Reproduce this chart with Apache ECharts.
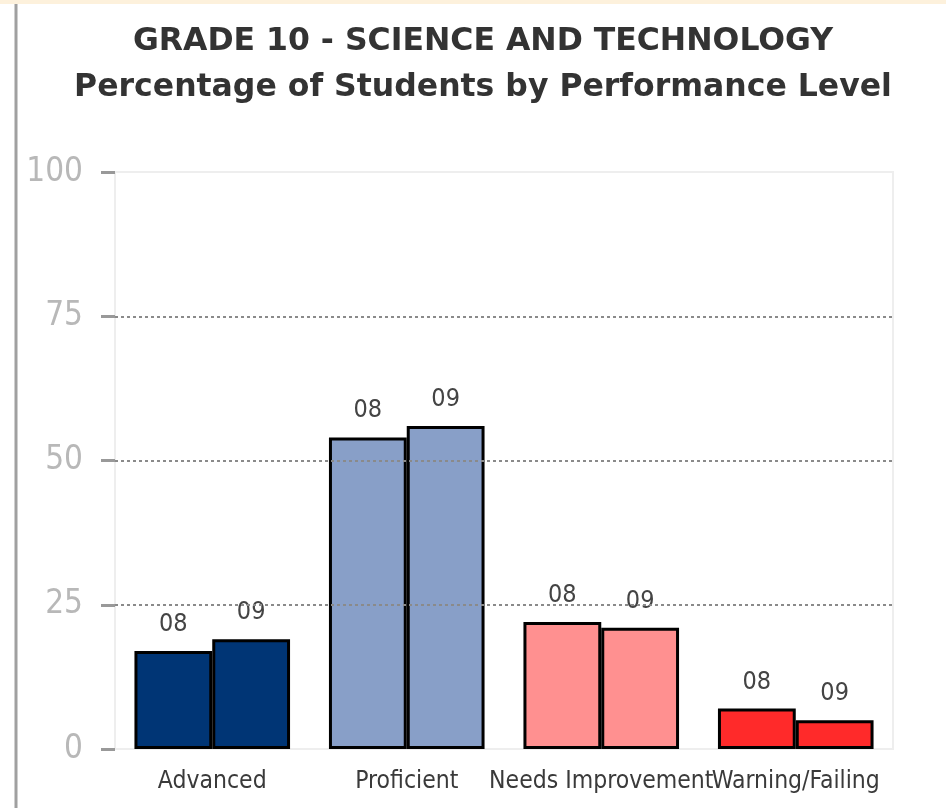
<!DOCTYPE html>
<html>
<head>
<meta charset="utf-8">
<script src="https://cdn.jsdelivr.net/npm/echarts@6/dist/echarts.min.js"></script>
<style>
  html, body { margin: 0; padding: 0; background: #ffffff; }
  #chart { width: 946px; height: 808px; }
</style>
</head>
<body>
<div id="chart"></div>
<script>
const chart = echarts.init(document.getElementById('chart'));

const categories = ['Advanced', 'Proficient', 'Needs Improvement', 'Warning/Failing'];

// percentage by year
const values08 = [17, 54, 22, 7];
const values09 = [19, 56, 21, 5];

const levelColors = ['#003575', '#889fc8', '#ff9090', '#ff2a2a'];

const gridValues = [25, 50, 75];

const narrow = "'DejaVu Sans Condensed', 'Liberation Sans Narrow', 'DejaVu Sans', sans-serif";

function barData(values) {
  return values.map(function (v, i) {
    return { value: v, itemStyle: { color: levelColors[i] } };
  });
}

const barLabel = {
  show: true,
  position: 'top',
  distance: 14,
  formatter: '{a}',
  color: '#444',
  fontFamily: narrow,
  fontSize: 25
};

const option = {
  animation: false,
  title: {
    text: 'GRADE 10 - SCIENCE AND TECHNOLOGY\nPercentage of Students by Performance Level',
    left: 483,
    textAlign: 'center',
    top: 19,
    padding: 0,
    textStyle: {
      fontFamily: 'DejaVu Sans',
      fontWeight: 'bold',
      fontSize: 31.5,
      lineHeight: 46,
      color: '#333'
    }
  },
  graphic: [
    {
      type: 'rect',
      shape: { x: 16, y: -20, width: 940, height: 840, r: 10 },
      style: { fill: 'none', stroke: '#a0a0a0', lineWidth: 3 },
      z: 1
    },
    {
      type: 'rect',
      shape: { x: 0, y: 0, width: 946, height: 4 },
      style: { fill: '#fdf1dc' },
      z: 2
    }
  ],
  grid: {
    left: 115,
    right: 53,
    top: 172,
    bottom: 59,
    show: true,
    borderColor: '#eeeeee',
    borderWidth: 2
  },
  xAxis: {
    type: 'category',
    data: categories,
    axisLine: { show: false },
    axisTick: { show: false },
    axisLabel: {
      interval: 0,
      margin: 20,
      color: '#3a3a3a',
      fontFamily: narrow,
      fontSize: 24.5
    }
  },
  yAxis: {
    type: 'value',
    min: 0,
    max: 100,
    interval: 25,
    splitLine: { show: false },
    axisLine: { show: false },
    axisTick: {
      show: true,
      length: 14,
      lineStyle: { color: '#999', width: 3 }
    },
    axisLabel: {
      margin: 32,
      color: '#b8b8b8',
      fontFamily: narrow,
      fontSize: 33
    }
  },
  series: [
    {
      name: '08',
      type: 'bar',
      barGap: '0%',
      barCategoryGap: '20%',
      data: barData(values08),
      itemStyle: { borderColor: '#000', borderWidth: 3 },
      label: barLabel,
      markLine: {
        silent: true,
        symbol: 'none',
        label: { show: false },
        lineStyle: { color: '#8a8a8a', width: 2, type: [3, 3] },
        data: gridValues.map(function (v) { return { yAxis: v }; })
      },
      z: 3
    },
    {
      name: '09',
      type: 'bar',
      data: barData(values09),
      itemStyle: { borderColor: '#000', borderWidth: 3 },
      label: barLabel,
      z: 3
    }
  ]
};

chart.setOption(option);
</script>
</body>
</html>
